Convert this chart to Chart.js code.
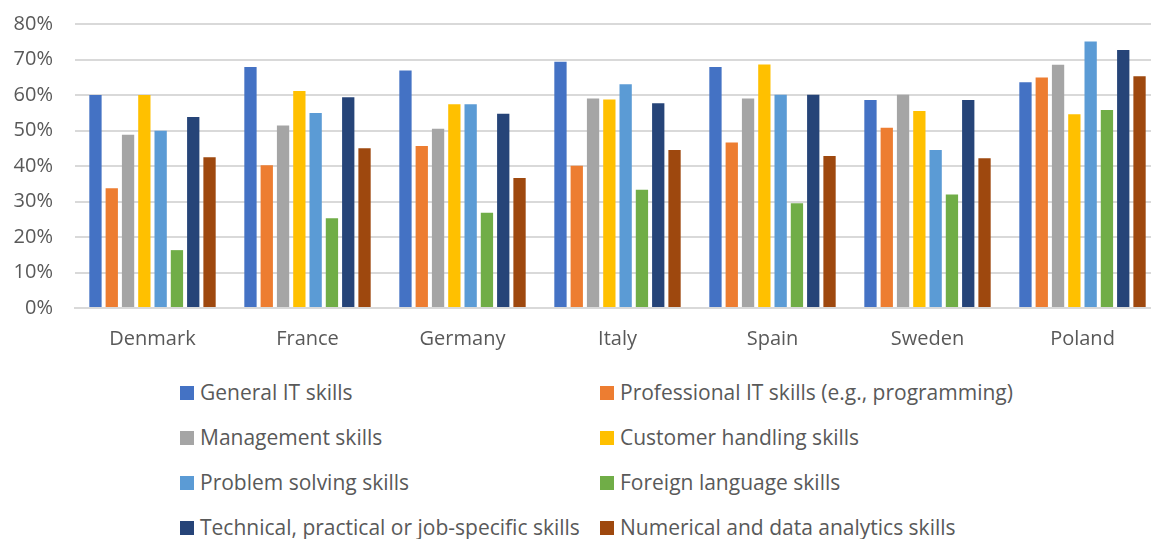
<!DOCTYPE html>
<html>
<head>
<meta charset="utf-8">
<script src="https://cdn.jsdelivr.net/npm/chart.js@4.4.0/dist/chart.umd.min.js"></script>
<style>
  html, body { margin: 0; padding: 0; background: #fff; overflow: hidden; }
  #wrap { position: relative; width: 1151px; height: 539px; overflow: hidden; }
  #myChart { position: absolute; left: 0; top: 0; }
  #legend {
    position: absolute; left: 180px; top: 370px;
    display: grid; grid-template-columns: 420px 420px;
    font-family: "Open Sans", sans-serif; font-size: 21px; color: #595959;
  }
  #legend .item { height: 45px; line-height: 45px; white-space: nowrap; display: flex; align-items: center; }
  #legend .box { width: 14px; height: 14px; margin-right: 6px; display: inline-block; }
</style>
</head>
<body>
<div id="wrap">
  <canvas id="myChart" width="1160" height="360"></canvas>
  <div id="legend"></div>
</div>
<script>
const countries = ['Denmark', 'France', 'Germany', 'Italy', 'Spain', 'Sweden', 'Poland'];

const skills = [
    'General IT skills',
    'Professional IT skills (e.g., programming)',
    'Management skills',
    'Customer handling skills',
    'Problem solving skills',
    'Foreign language skills',
    'Technical, practical or job-specific skills',
    'Numerical and data analytics skills'
];

const colors = ['#4472C4', '#ED7D31', '#A5A5A5', '#FFC000', '#5B9BD5', '#70AD47', '#264478', '#9E480E'];

// values in %, one array per skill, in country order
const generalIT   = [60.0, 67.9, 66.9, 69.4, 67.9, 58.6, 63.6];
const professional = [33.7, 40.2, 45.6, 40.1, 46.6, 50.8, 64.9];
const management  = [48.8, 51.4, 50.5, 59.0, 59.0, 60.1, 68.5];
const customer    = [60.0, 61.1, 57.4, 58.7, 68.6, 55.5, 54.6];
const problem     = [49.9, 54.9, 57.4, 63.0, 60.1, 44.5, 75.1];
const foreign     = [16.3, 25.3, 26.8, 33.3, 29.5, 32.0, 55.8];
const technical   = [53.8, 59.4, 54.7, 57.7, 60.1, 58.6, 72.7];
const numerical   = [42.5, 45.0, 36.6, 44.5, 42.8, 42.2, 65.3];

const yTicks = [0, 10, 20, 30, 40, 50, 60, 70, 80];

const series = [generalIT, professional, management, customer, problem, foreign, technical, numerical];

const font = { family: '"Open Sans", sans-serif', size: 20 };

const ctx = document.getElementById('myChart');

const chart = new Chart(ctx, {
    type: 'bar',
    data: {
        labels: countries,
        datasets: series.map((vals, i) => ({
            label: skills[i],
            data: vals,
            backgroundColor: colors[i],
            categoryPercentage: 0.841,
            barPercentage: 0.755
        }))
    },
    options: {
        responsive: false,
        animation: false,
        layout: { padding: { top: 24, left: 0, right: 0, bottom: 0 } },
        plugins: {
            legend: { display: false },
            tooltip: { enabled: false }
        },
        scales: {
            x: {
                grid: { display: false, drawTicks: false },
                border: { color: '#D9D9D9', width: 2 },
                ticks: { color: '#595959', font: font, padding: 19, maxRotation: 0 },
                afterFit: (scale) => { scale.height = 52; }
            },
            y: {
                min: 0,
                max: 80,
                afterBuildTicks: (scale) => { scale.ticks = yTicks.map(v => ({ value: v })); },
                grid: { color: '#D9D9D9', lineWidth: 2, drawTicks: false },
                border: { display: false },
                ticks: {
                    color: '#595959', font: font, padding: 22,
                    callback: (v) => v + '%'
                },
                afterFit: (scale) => {
                    scale.width = 75;
                    scale.paddingTop = 0;
                    scale.paddingBottom = 0;
                }
            }
        }
    }
});

// two-column legend under the chart
const legend = document.getElementById('legend');
chart.data.datasets.forEach((ds) => {
    const item = document.createElement('div');
    item.className = 'item';
    const box = document.createElement('span');
    box.className = 'box';
    box.style.background = ds.backgroundColor;
    item.appendChild(box);
    item.appendChild(document.createTextNode(ds.label));
    legend.appendChild(item);
});
</script>
</body>
</html>
